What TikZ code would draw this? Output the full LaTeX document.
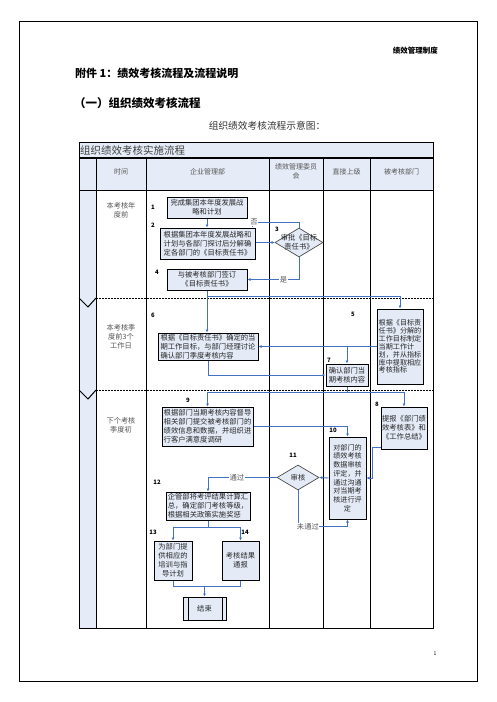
\documentclass[tikz,border=0pt]{standalone}
\usepackage{fontspec}
\setmainfont{Noto Sans CJK SC}
\usetikzlibrary{shapes.geometric,calc,arrows.meta}
\definecolor{lb}{RGB}{230,236,247}
\definecolor{bfill}{RGB}{228,235,247}
\definecolor{cblue}{RGB}{66,114,196}
\definecolor{tgray}{RGB}{85,85,85}
\begin{document}
\begin{tikzpicture}[x=1pt,y=-1pt,
 bx/.style={draw=black, line width=1pt, fill=bfill, inner sep=1pt, font=\fontsize{7.3}{8.9}\selectfont, text=black!85, align=center},
 dm/.style={diamond, draw=black!70, line width=0.7pt, fill=bfill, inner sep=0pt},
 arr/.style={draw=cblue, line width=0.9pt, -{Latex[length=3pt,width=3pt]}},
 ln/.style={draw=cblue, line width=0.9pt},
 num/.style={font=\fontsize{6}{6}\selectfont\bfseries, text=black, inner sep=0pt},
 lbl/.style={font=\fontsize{7.3}{8}\selectfont, text=tgray, fill=white, inner sep=0.5pt},
 tm/.style={font=\fontsize{7.2}{9}\selectfont, text=tgray, align=center},
 hd/.style={font=\fontsize{7}{9}\selectfont, text=tgray, align=center},
 tbl/.style={draw=black, line width=0.8pt},
 dsh/.style={draw=black, line width=0.9pt, dash pattern=on 2pt off 1pt}
 ]
\useasboundingbox (0,0) rectangle (496,702);
\fill[white] (0,0) rectangle (496,702);
\draw[line width=0.6pt] (19,21) rectangle (477,681);

% page texts
\node[anchor=east, font=\fontsize{7.5}{8}\selectfont\bfseries, inner sep=0pt] (hdr) at (438,51) {绩效管理制度};
\node[anchor=west, font=\fontsize{11}{12}\selectfont\bfseries, inner sep=0pt] (t1) at (75,73) {附件 1：绩效考核流程及流程说明};
\node[anchor=west, font=\fontsize{11.5}{12}\selectfont\bfseries, inner sep=0pt] (t2) at (74,103) {（一）组织绩效考核流程};
\node[font=\fontsize{9.7}{10}\selectfont, text=black!80, inner sep=0pt] (t3) at (267,126) {组织绩效考核流程示意图：};
\node[font=\fontsize{5}{5}\selectfont, inner sep=0pt] (pg) at (435,654) {1};

% table
\fill[lb] (79,142) rectangle (433,190);
\fill[lb] (79,190) rectangle (96,628);
\draw[tbl] (79,142) rectangle (433,628);
\draw[black, line width=1.6pt] (79,158) -- (433,158);
\draw[tbl] (79,190) -- (433,190);
\foreach \cx in {96,146,269,323,370} {\draw[tbl] (\cx,158) -- (\cx,628);}
\draw[dsh] (96,298) -- (433,298);
\draw[dsh] (96,390) -- (433,390);
\draw[tbl, line width=1pt] (79,298) -- (88,307) -- (96,298);
\draw[tbl, line width=1pt] (79,390) -- (88,399) -- (96,390);

\node[anchor=west, font=\fontsize{10.5}{11}\selectfont, text=black!75, inner sep=0pt] (ttl) at (80,150) {组织绩效考核实施流程};
\node[hd] (h1) at (121,172) {时间};
\node[hd] (h2) at (207.5,172) {企业管理部};
\node[hd] (h3) at (296,171) {绩效管理委员\\会};
\node[hd] (h4) at (346.5,172) {直接上级};
\node[hd] (h5) at (401.5,172) {被考核部门};

\node[tm] (tm1) at (121,210) {本考核年\\度前};
\node[tm] (tm2) at (121,337) {本考核季\\度前3个\\工作日};
\node[tm] (tm3) at (121,425) {下个考核\\季度初};

% boxes
\node[bx, minimum width=80pt, minimum height=21pt] (b1) at (207,207.5) {完成集团本年度发展战\\略和计划};
\node[bx, minimum width=95pt, minimum height=31pt] (b2) at (207.5,243.5) {根据集团本年度发展战略和\\计划与各部门探讨后分解确\\定各部门的《目标责任书》};
\node[dm, minimum width=48pt, minimum height=29pt] (d3) at (299,242.5) {};
\node[font=\fontsize{7.3}{8.9}\selectfont, text=black!85, align=center, inner sep=0pt] (d3t) at (299,242.5) {审批《目标\\责任书》};
\node[bx, minimum width=80pt, minimum height=21pt] (b4) at (207,279.5) {与被考核部门签订\\《目标责任书》};
\node[bx, minimum width=100pt, minimum height=27pt, align=left] (b6) at (208,346.5) {根据《目标责任书》确定的当\\期工作目标，与部门经理讨论\\确认部门季度考核内容};
\node[bx, minimum width=46pt, minimum height=75pt, align=left, font=\fontsize{7.1}{7.9}\selectfont] (b5) at (400,346.5) {根据《目标责\\任书》分解的\\工作目标制定\\当期工作计\\划，并从指标\\库中提取相应\\考核指标};
\node[bx, minimum width=42pt, minimum height=22pt, align=left] (b7) at (347,375) {确认部门当\\期考核内容};
\node[bx, minimum width=91pt, minimum height=39pt, align=left] (b9) at (207.5,426.5) {根据部门当期考核内容督导\\相关部门提交被考核部门的\\绩效信息和数据，并组织进\\行客户满意度调研};
\node[bx, minimum width=46pt, minimum height=42pt] (b8) at (404,428) {提报《部门绩\\效考核表》和\\《工作总结》};
\node[bx, minimum width=37pt, minimum height=82pt, font=\fontsize{7.1}{8.7}\selectfont] (b10) at (347.5,478) {对部门的\\绩效考核\\数据审核\\评定，并\\通过沟通\\对当期考\\核进行评\\定};
\node[dm, minimum width=42pt, minimum height=25pt] (d11) at (298,477.5) {};
\node[font=\fontsize{7.3}{8.9}\selectfont, text=black!85, inner sep=0pt] (d11t) at (298,477.5) {审核};
\node[bx, minimum width=84pt, minimum height=28pt, align=left] (b12) at (208,506) {企管部将考评结果计算汇\\总，确定部门考核等级，\\根据相关政策实施奖惩};
\node[bx, minimum width=38pt, minimum height=39pt] (b13) at (173,560.5) {为部门提\\供相应的\\培训与指\\导计划};
\node[bx, minimum width=37pt, minimum height=39pt] (b14) at (240.5,560.5) {考核结果\\通报};
\node[bx, minimum width=43pt, minimum height=23pt] (endn) at (204.5,608.5) {结束};
\draw[black, line width=1pt] ([xshift=6pt]endn.north west) -- ([xshift=6pt]endn.south west);
\draw[black, line width=1pt] ([xshift=-4pt]endn.north east) -- ([xshift=-4pt]endn.south east);

% numbers
\node[num] (n1) at (153,207) {1};
\node[num] (n2) at (153,225) {2};
\node[num] (n3) at (277,229) {3};
\node[num] (n4) at (157,272) {4};
\node[num] (n5) at (353,314) {5};
\node[num] (n6) at (153,315) {6};
\node[num] (n7) at (329,360) {7};
\node[num] (n8) at (377,404) {8};
\node[num] (n9) at (188,400) {9};
\node[num] (n10) at (333,430) {10};
\node[num] (n11) at (293,455) {11};
\node[num] (n12) at (157,482) {12};
\node[num] (n13) at (153,532) {13};
\node[num] (n14) at (245,532) {14};

% connectors
\draw[arr] (b1.south) -- (b1.south |- b2.north);
\draw[arr] (b2.east |- d3.west) -- (d3.west);
\draw[arr] (d3.north) |- ([xshift=-3pt,yshift=5pt]b2.north east) -- ([xshift=-3pt]b2.north east);
\node[lbl] (lno) at (254,222) {否};
\draw[arr] (d3.south) |- (b4.east) node[lbl, pos=0.65] {是};
\draw[arr] (b4.south) -- (b4.south |- b6.north);
\draw[arr] ($(b4.south)+(0,6)$) -| (b5.north);
\draw[arr] (b5.west) -- (b6.east);
\draw[arr] (b7.north |- b5.west) -- (b7.north);
\draw[arr] (b6.south) |- (b7.west);
\draw[ln] (b7.south) -- ++(0,6) coordinate (j7);
\draw[arr] (j7) -| (b9.north);
\draw[arr] (j7) -| (b8.north);
\draw[arr] (b9.east) -| (b10.north);
\draw[arr] ([yshift=2pt]b8.south west) -- ++(-8,0) |- (b10.east);
\draw[arr] (b10.west) -- (d11.east);
\draw[arr] (d11.west) -| (b12.north) node[lbl, pos=0.29] {通过};
\draw[arr] (d11.south) |- ($(b10.south)+(0,7)$) node[lbl, pos=0.6] {未通过} -- (b10.south);
\draw[ln] (b12.south) -- ++(0,7) coordinate (j12);
\draw[arr] (j12) -| (b13.north);
\draw[arr] (j12) -| (b14.north);
\draw[ln] (b13.south) -- ++(0,6) coordinate (j13) -| (b14.south);
\draw[arr] (j13 -| endn.north) -- (endn.north);
\end{tikzpicture}
\end{document}
